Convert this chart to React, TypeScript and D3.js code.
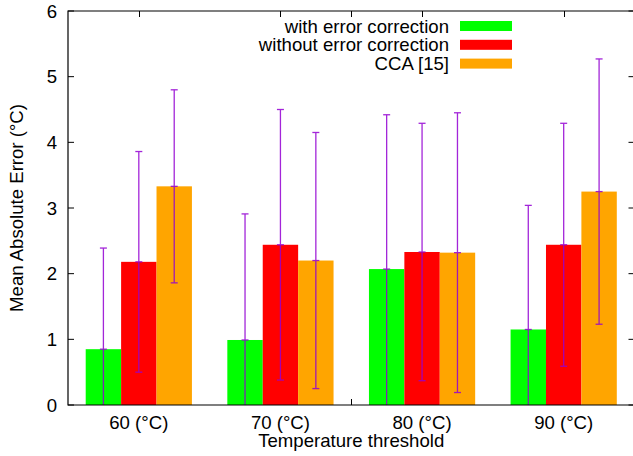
import React from "react";
import * as d3 from "d3";

const categories = ["60 (°C)", "70 (°C)", "80 (°C)", "90 (°C)"];
const seriesNames = ["with error correction", "without error correction", "CCA [15]"];
const seriesColors = ["#00ff00", "#ff0000", "#ffa500"];
const withCorrection = [0.85, 0.99, 2.07, 1.15];
const withoutCorrection = [2.18, 2.44, 2.33, 2.44];
const cca = [3.33, 2.2, 2.32, 3.25];
const withCorrectionErr = [1.54, 1.92, 2.35, 1.89];
const withoutCorrectionErr = [1.68, 2.06, 1.96, 1.85];
const ccaErr = [1.47, 1.95, 2.13, 2.02];
const yTicks = [0, 1, 2, 3, 4, 5, 6];
const extraTickSlots = [8];

const values = [withCorrection, withoutCorrection, cca];
const errors = [withCorrectionErr, withoutCorrectionErr, ccaErr];

const W = 633;
const H = 456;
const left = 68;
const right = 634.5;
const top = 11;
const bottom = 405;
const FS = 18.6;
const FONT = "'Liberation Sans', Arial, Helvetica, sans-serif";

export default function App() {
  const x = d3.scaleLinear().domain([0, 16]).range([left, right]);
  const y = d3.scaleLinear().domain([0, 6]).range([bottom, top]);
  const groupSlot = (i: number) => 2 + 4 * i;
  const tickSlots = [...categories.map((_, i) => groupSlot(i)), ...extraTickSlots];

  return (
    <svg
      width={W}
      height={H}
      style={{ position: "absolute", left: 0, top: 0, background: "#fff" }}
      fontFamily={FONT}
    >
      <rect x={0} y={0} width={W} height={H} fill="#fff" />
      {/* ticks */}
      {yTicks.map((t) => (
        <g key={"yt" + t}>
          <line x1={left} x2={left + 6} y1={y(t)} y2={y(t)} stroke="#000" strokeWidth={1} />
          <line x1={right - 6} x2={right} y1={y(t)} y2={y(t)} stroke="#000" strokeWidth={1} />
          <text x={57} y={y(t) + 6.6} fontSize={FS} textAnchor="end" fill="#000">
            {t}
          </text>
        </g>
      ))}
      {tickSlots.map((s) => (
        <g key={"xt" + s}>
          <line x1={Math.round(x(s)) + 0.5} x2={Math.round(x(s)) + 0.5} y1={bottom} y2={bottom - 6} stroke="#000" strokeWidth={1} />
          <line x1={Math.round(x(s)) + 0.5} x2={Math.round(x(s)) + 0.5} y1={top} y2={top + 6} stroke="#000" strokeWidth={1} />
        </g>
      ))}
      {/* bars */}
      {values.map((series, si) =>
        series.map((v, i) => {
          const s0 = groupSlot(i) - 1.5 + si;
          return (
            <rect
              key={`b${si}-${i}`}
              x={x(s0)}
              y={y(v)}
              width={x(s0 + 1) - x(s0)}
              height={y(0) - y(v)}
              fill={seriesColors[si]}
            />
          );
        })
      )}
      {/* error bars */}
      {values.map((series, si) =>
        series.map((v, i) => {
          const cx = x(groupSlot(i) - 1 + si);
          const lo = Math.max(0, v - errors[si][i]);
          const hi = v + errors[si][i];
          const caps = [hi, v - errors[si][i] >= 0 ? lo : null];
          return (
            <g key={`e${si}-${i}`} stroke="#9400d3" strokeWidth={1.3} opacity={0.85}>
              <line x1={cx} x2={cx} y1={y(lo)} y2={y(hi)} />
              {caps.map((c, k) =>
                c === null ? null : (
                  <line key={k} x1={cx - 3.5} x2={cx + 3.5} y1={y(c)} y2={y(c)} />
                )
              )}
              <line x1={cx - 3.5} x2={cx + 3.5} y1={y(v)} y2={y(v)} />
            </g>
          );
        })
      )}
      {/* border */}
      <path
        d={`M${left},${top}H${right}V${bottom}H${left}Z`}
        fill="none"
        stroke="#000"
        strokeWidth={1.2}
      />
      {/* x tick labels */}
      {categories.map((c, i) => (
        <text key={c} x={x(groupSlot(i))} y={429} fontSize={FS} textAnchor="middle" fill="#000">
          {c}
        </text>
      ))}
      <text x={(left + right) / 2} y={447} fontSize={FS} textAnchor="middle" fill="#000">
        Temperature threshold
      </text>
      <text
        transform={`translate(23,${(top + bottom) / 2}) rotate(-90)`}
        fontSize={FS}
        textAnchor="middle"
        fill="#000"
      >
        Mean Absolute Error (°C)
      </text>
      {/* legend */}
      {seriesNames.map((n, si) => {
        const cy = 26 + si * 18.8;
        return (
          <g key={n}>
            <text x={449} y={cy + 6.6} fontSize={FS} textAnchor="end" fill="#000">
              {n}
            </text>
            <rect x={460} y={cy - 5} width={52} height={10} fill={seriesColors[si]} />
          </g>
        );
      })}
    </svg>
  );
}
